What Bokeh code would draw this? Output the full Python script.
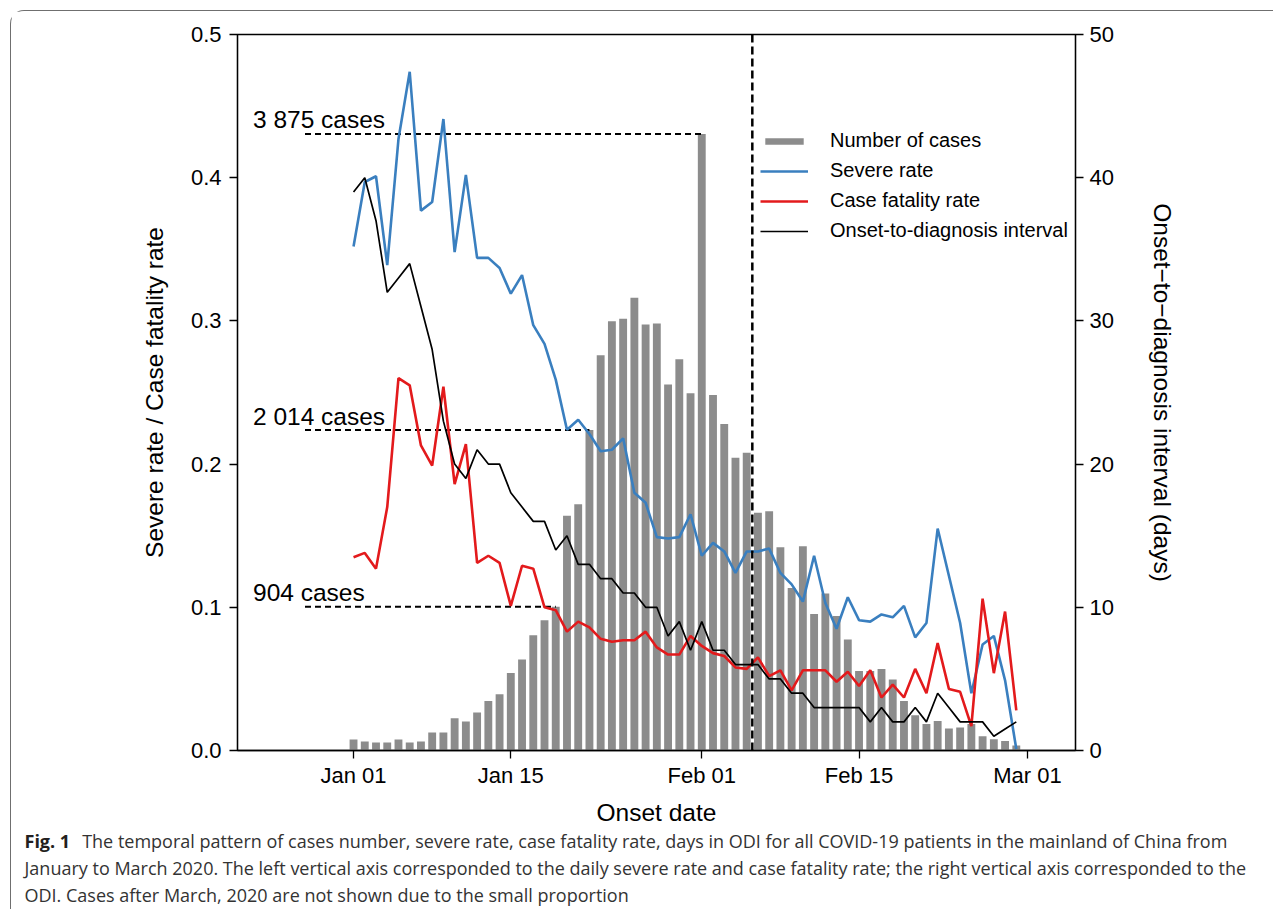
from bokeh.plotting import figure
from bokeh.models import (Range1d, LinearAxis, FixedTicker, NumeralTickFormatter,
                          Span, Legend, LegendItem, ColumnDataSource, Div)
from bokeh.layouts import column
from bokeh.embed import file_html
from bokeh.resources import INLINE
from bokeh.core.properties import value

# ---------------- data (day 0 = Jan 01 2020 ... day 59 = Feb 29 2020) ----------------
days = list(range(60))
cases = [69, 57, 50, 50, 69, 50, 57, 113, 113, 202,
         183, 239, 311, 353, 487, 572, 725, 818, 904, 1475,
         1548, 2014, 2484, 2698, 2714, 2845, 2677, 2683, 2301, 2459,
         2245, 3875, 2235, 2052, 1840, 1871, 1495, 1503, 1278, 1022,
         1284, 858, 986, 845, 698, 500, 500, 513, 447, 311,
         222, 166, 185, 139, 145, 166, 90, 71, 59, 32]
severe_rate = [0.352, 0.397, 0.401, 0.339, 0.427, 0.474, 0.377, 0.383, 0.441, 0.348,
               0.402, 0.344, 0.344, 0.337, 0.319, 0.332, 0.297, 0.284, 0.259, 0.224,
               0.231, 0.221, 0.209, 0.210, 0.218, 0.180, 0.173, 0.149, 0.148, 0.149,
               0.165, 0.136, 0.145, 0.139, 0.124, 0.139, 0.139, 0.141, 0.124, 0.116,
               0.104, 0.136, 0.103, 0.085, 0.107, 0.091, 0.090, 0.095, 0.093, 0.101,
               0.079, 0.089, 0.155, 0.122, 0.089, 0.040, 0.074, 0.080, 0.049, 0.001]
fatality_rate = [0.135, 0.138, 0.127, 0.170, 0.260, 0.255, 0.213, 0.199, 0.254, 0.186,
                 0.214, 0.131, 0.136, 0.131, 0.101, 0.129, 0.127, 0.100, 0.098, 0.083,
                 0.090, 0.086, 0.078, 0.076, 0.077, 0.077, 0.083, 0.072, 0.067, 0.067,
                 0.080, 0.073, 0.068, 0.066, 0.058, 0.057, 0.065, 0.052, 0.056, 0.042,
                 0.056, 0.056, 0.056, 0.048, 0.055, 0.045, 0.056, 0.037, 0.046, 0.037,
                 0.057, 0.040, 0.075, 0.043, 0.041, 0.017, 0.106, 0.054, 0.097, 0.028]
odi_days = [39, 40, 37, 32, 33, 34, 31, 28, 23, 20,
            19, 21, 20, 20, 18, 17, 16, 16, 14, 15,
            13, 13, 12, 12, 11, 11, 10, 10, 8, 9,
            7, 9, 7, 7, 6, 6, 6, 5, 5, 4,
            4, 3, 3, 3, 3, 3, 2, 3, 2, 2,
            3, 2, 4, 3, 2, 2, 2, 1, 1.5, 2]

tick_days = [0, 14, 31, 45, 60]
tick_labels = ["Jan 01", "Jan 15", "Feb 01", "Feb 15", "Mar 01"]
left_ticks = [0.0, 0.1, 0.2, 0.3, 0.4, 0.5]
right_ticks = [0, 10, 20, 30, 40, 50]
ref_cases = [3875, 2014, 904]
ref_labels = ["3 875 cases", "2 014 cases", "904 cases"]
divider_day = 35.5
CASE_SCALE = 9000.0   # cases plotted on the left axis as cases / 9000

caption_bold = "Fig. 1"
caption_lines = [
    "The temporal pattern of cases number, severe rate, case fatality rate, days in ODI for all COVID-19 patients in the mainland of China from",
    "January to March 2020. The left vertical axis corresponded to the daily severe rate and case fatality rate; the right vertical axis corresponded to the",
    "ODI. Cases after March, 2020 are not shown due to the small proportion",
]

# ---------------- layout ----------------
X0, X1 = -10.33, 64.27
Y0, Y1 = 0.0, 0.5
ML, MR, MT, MB = 226, 198, 23, 78
W, H = 1262, 817
FW, FH = W - ML - MR, H - MT - MB
ORIGIN = 11.5
PAGE_LEFT, PAGE_TOP = ORIGIN + ML, ORIGIN + MT


def dx(px):  # page x pixel -> data x
    return X0 + (px - PAGE_LEFT) / FW * (X1 - X0)


def dpy(npx):  # a vertical distance in pixels -> left-axis data units
    return npx / FH * (Y1 - Y0)


p = figure(width=W, height=H, x_range=Range1d(X0, X1), y_range=Range1d(Y0, Y1),
           output_backend="svg", toolbar_location=None,
           min_border_left=ML, min_border_right=MR, min_border_top=MT, min_border_bottom=MB,
           background_fill_color="white", border_fill_color="white", margin=0)
p.xgrid.visible = False
p.ygrid.visible = False
p.outline_line_color = "black"
p.outline_line_width = 1.3

p.extra_y_ranges = {"odi": Range1d(0, 50)}
right_axis = LinearAxis(y_range_name="odi", ticker=FixedTicker(ticks=right_ticks),
                        axis_label="Onset\u2212to\u2212diagnosis interval (days)")
p.add_layout(right_axis, "right")

p.xaxis.ticker = FixedTicker(ticks=tick_days)
p.xaxis.major_label_overrides = dict(zip(tick_days, tick_labels))
p.xaxis.axis_label = "Onset date"
p.yaxis[0].ticker = FixedTicker(ticks=left_ticks)
p.yaxis[0].formatter = NumeralTickFormatter(format="0.0")
p.yaxis[0].axis_label = "Severe rate / Case fatality rate"

for ax in p.axis:
    ax.minor_tick_line_color = None
    ax.major_tick_out = 8
    ax.major_tick_in = 0
    ax.major_tick_line_width = 1.3
    ax.axis_line_width = 1.3
    ax.axis_line_color = "black"
    ax.major_tick_line_color = "black"
    ax.major_label_text_font = "Liberation Sans"
    ax.major_label_text_font_size = "22px"
    ax.major_label_text_color = "black"
    ax.axis_label_text_font = "Liberation Sans"
    ax.axis_label_text_font_size = "24.5px"
    ax.axis_label_text_font_style = "normal"
    ax.axis_label_text_color = "black"
p.xaxis.major_label_standoff = 4
p.xaxis.axis_label_standoff = 8
p.yaxis[0].major_label_standoff = 8
p.yaxis[0].axis_label_standoff = 20
right_axis.major_label_standoff = 6
right_axis.axis_label_standoff = 32

src = ColumnDataSource(dict(day=days,
                            cases_scaled=[c / CASE_SCALE for c in cases],
                            severe=severe_rate, cfr=fatality_rate, odi=odi_days))

bars = p.vbar(x="day", top="cases_scaled", width=0.7, source=src,
              fill_color="#8c8c8c", line_color=None)

ref_day = [cases.index(c) for c in ref_cases]
ref_y = [c / CASE_SCALE for c in ref_cases]
p.segment(x0=[dx(305)] * len(ref_cases), y0=ref_y, x1=ref_day, y1=ref_y,
          line_color="black", line_width=2, line_dash="6 4")
p.text(x=[dx(253)] * len(ref_cases), y=[v + dpy(14) for v in ref_y], text=ref_labels,
       text_font=value("Liberation Sans"), text_font_size="24.5px",
       text_baseline="middle", text_align="left", text_color="black")

l_sev = p.line("day", "severe", source=src, line_color="#3a7fbf", line_width=2.6)
l_cfr = p.line("day", "cfr", source=src, line_color="#e31a1c", line_width=2.6)
l_odi = p.line("day", "odi", source=src, y_range_name="odi", line_color="black", line_width=1.7)

p.add_layout(Span(location=divider_day, dimension="height", line_color="black",
                  line_width=2.5, line_dash="8 4"))

legend = Legend(items=[LegendItem(label="Number of cases", renderers=[bars]),
                       LegendItem(label="Severe rate", renderers=[l_sev]),
                       LegendItem(label="Case fatality rate", renderers=[l_cfr]),
                       LegendItem(label="Onset-to-diagnosis interval", renderers=[l_odi])],
                location=(523, 508), border_line_color=None, background_fill_alpha=0,
                padding=0, margin=0, spacing=7, glyph_width=48, glyph_height=8,
                label_height=21, label_standoff=22,
                label_text_font="Liberation Sans", label_text_font_size="20px",
                label_text_color="black")
p.add_layout(legend)

caption_html = (
    '<div style="font-family: \'Open Sans\', sans-serif; font-size: 18px; line-height: 27px; '
    'color: #333333; padding-left: 13.5px; white-space: nowrap;">'
    '<span style="font-weight: 700; color: #231f20; margin-right: 12px;">' + caption_bold + '</span>'
    + caption_lines[0] + '<br>' + caption_lines[1] + '<br>' + caption_lines[2] + '</div>'
)
cap = Div(text=caption_html, width=W, height=81, margin=0)

page = column(p, cap, margin=0,
              styles={"border-left": "1.5px solid #6f6f6f", "border-top": "1.5px solid #6f6f6f",
                      "border-top-left-radius": "14px", "margin-left": "10px", "margin-top": "10px"})

open("out.html", "w").write(file_html(page, INLINE))
